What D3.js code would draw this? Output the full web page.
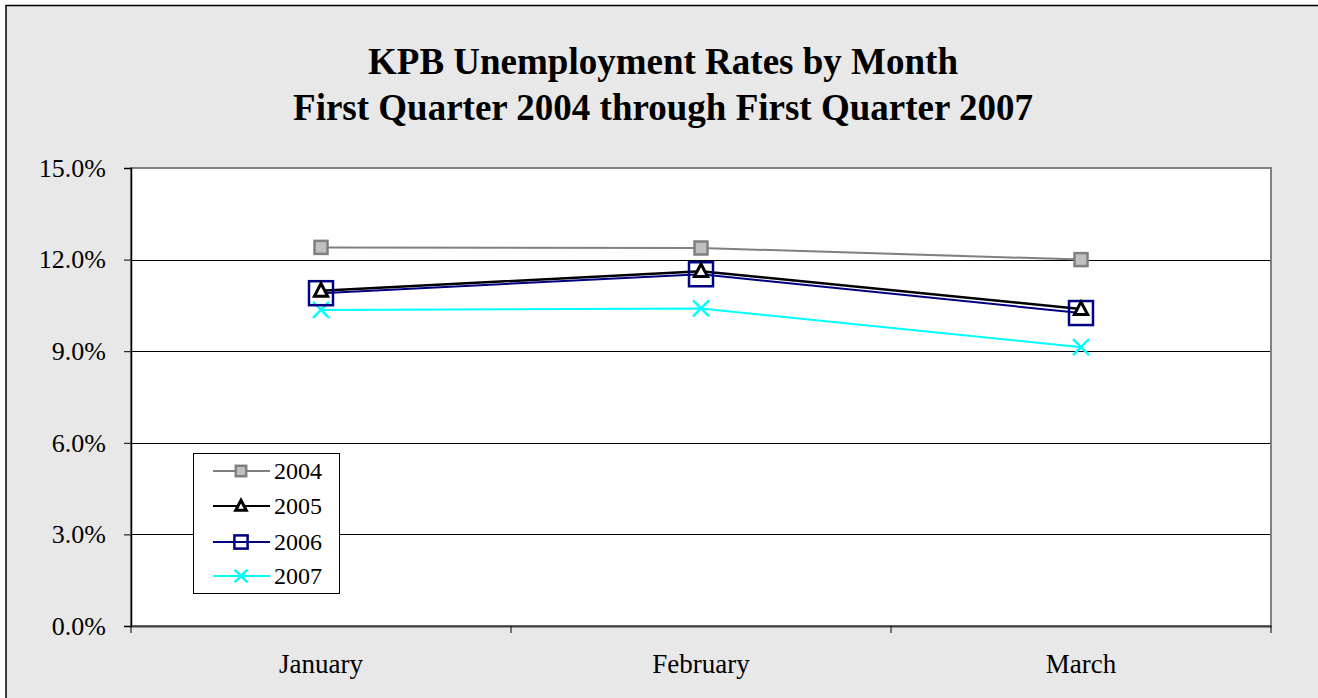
<!DOCTYPE html>
<html><head><meta charset="utf-8">
<script src="https://cdn.jsdelivr.net/npm/d3@7"></script>
<style>html,body{margin:0;padding:0;background:#fff;}svg{display:block;}</style>
</head><body>
<svg id="c" width="1318" height="698"></svg>
<script>
const months = ["January", "February", "March"];
const yTicks = [0, 3, 6, 9, 12, 15];
const titleLines = ["KPB Unemployment Rates by Month", "First Quarter 2004 through First Quarter 2007"];
const seriesNames = ["2004", "2005", "2006", "2007"];
const v2004 = [12.4, 12.38, 12.0];
const v2005 = [10.98, 11.62, 10.38];
const v2006 = [10.9, 11.52, 10.25];
const v2007 = [10.35, 10.4, 9.13];

const colors = {"2004": "#808080", "2005": "#000000", "2006": "#000080", "2007": "#00ffff"};
const markers = {"2004": "fsquare", "2005": "triangle", "2006": "square", "2007": "cross"};
const values = {"2004": v2004, "2005": v2005, "2006": v2006, "2007": v2007};

const svg = d3.select("#c");
const font = "'Liberation Serif','Times New Roman',serif";

svg.append("rect").attr("x", 0).attr("y", 0).attr("width", 1318).attr("height", 698).attr("fill", "#fff");
svg.append("rect").attr("x", 6).attr("y", 5.5).attr("width", 1330).attr("height", 710)
  .attr("fill", "#e8e8e8").attr("stroke", "#000").attr("stroke-width", 1.5);

const L = 131, R = 1271, T = 168, B = 626;
const x = d3.scaleBand().domain(months).range([L, R]);
const y = d3.scaleLinear().domain([0, 15]).range([B, T]);

svg.append("rect").attr("x", L).attr("y", T).attr("width", R - L).attr("height", B - T).attr("fill", "#fff");

// gridlines
svg.append("g").selectAll("line").data(yTicks.filter(d => d > 0 && d < 15)).join("line")
  .attr("x1", L).attr("x2", R).attr("y1", d => Math.round(y(d)) + 0.5).attr("y2", d => Math.round(y(d)) + 0.5)
  .attr("stroke", "#000").attr("stroke-width", 1);

// plot border
svg.append("rect").attr("x", L).attr("y", T).attr("width", R - L).attr("height", B - T)
  .attr("fill", "none").attr("stroke", "#808080").attr("stroke-width", 2);

// y axis
const ya = svg.append("g").attr("transform", `translate(${L},0)`)
  .call(d3.axisLeft(y).tickValues(yTicks).tickSize(7).tickPadding(18).tickFormat(d => d.toFixed(1) + "%"));
ya.select(".domain").attr("stroke", "#000").attr("stroke-width", 1.5);
ya.selectAll(".tick line").attr("stroke", "#000");
ya.selectAll("text").attr("font-family", font).attr("font-size", 26).attr("fill", "#000");

// x axis
const xa = svg.append("g").attr("transform", `translate(0,${B})`)
  .call(d3.axisBottom(x).tickSize(0).tickPadding(0));
xa.select(".domain").attr("stroke", "#404040").attr("stroke-width", 2);
xa.selectAll("text").attr("font-family", font).attr("font-size", 27).attr("fill", "#000")
  .attr("y", 47).attr("dy", 0);
const bounds = [L].concat(months.map(m => x(m) + x.bandwidth()));
svg.append("g").selectAll("line").data(bounds).join("line")
  .attr("x1", d => d).attr("x2", d => d).attr("y1", B).attr("y2", B + 7)
  .attr("stroke", "#000").attr("stroke-width", 1);

function drawMarker(g, type, cx, cy, color, scale) {
  if (type === "fsquare") {
    const s = 13 * scale;
    g.append("rect").attr("x", cx - s / 2).attr("y", cy - s / 2).attr("width", s).attr("height", s)
      .attr("fill", "#c0c0c0").attr("stroke", "#808080").attr("stroke-width", 2.5);
  } else if (type === "triangle") {
    const s = 12 * scale;
    g.append("path").attr("d", `M${cx},${cy - s * 0.6}L${cx + s * 0.55},${cy + s * 0.45}L${cx - s * 0.55},${cy + s * 0.45}Z`)
      .attr("fill", "#fff").attr("stroke", "#000").attr("stroke-width", 3);
  } else if (type === "square") {
    const s = 24 * scale;
    g.append("rect").attr("x", cx - s / 2).attr("y", cy - s / 2).attr("width", s).attr("height", s)
      .attr("fill", "none").attr("stroke", color).attr("stroke-width", 2.5);
  } else if (type === "cross") {
    const s = 8 * scale;
    g.append("path").attr("d", `M${cx - s},${cy - s}L${cx + s},${cy + s}M${cx - s},${cy + s}L${cx + s},${cy - s}`)
      .attr("stroke", color).attr("stroke-width", 2.5);
  }
}

const line = d3.line().x((d, i) => x(months[i]) + x.bandwidth() / 2).y(d => y(d));
const order = ["2004", "2007", "2006", "2005"];
order.forEach(s => {
  svg.append("path").datum(values[s]).attr("d", line).attr("fill", "none")
    .attr("stroke", colors[s]).attr("stroke-width", s === "2005" ? 2.5 : 2);
});
["2004", "2007", "2006", "2005"].forEach(s => {
  const g = svg.append("g");
  values[s].forEach((v, i) => {
    drawMarker(g, markers[s], x(months[i]) + x.bandwidth() / 2, y(v), colors[s], 1);
  });
});

// title
const tt = svg.append("text").attr("text-anchor", "middle").attr("font-family", font)
  .attr("font-weight", "bold").attr("font-size", 37).attr("fill", "#000");
titleLines.forEach((t, i) => tt.append("tspan").attr("x", 663).attr("y", 74 + i * 46).text(t));

// legend
const lg = svg.append("g");
lg.append("rect").attr("x", 193.5).attr("y", 453.5).attr("width", 146).attr("height", 140)
  .attr("fill", "#fff").attr("stroke", "#000").attr("stroke-width", 1);
const ly = [471, 506, 542, 576];
seriesNames.forEach((s, i) => {
  lg.append("line").attr("x1", 213).attr("x2", 270).attr("y1", ly[i]).attr("y2", ly[i])
    .attr("stroke", colors[s]).attr("stroke-width", 2);
  drawMarker(lg, markers[s], 241, ly[i], colors[s], s === "2006" ? 0.55 : 0.8);
  lg.append("text").attr("x", 274).attr("y", ly[i] + 8).attr("font-family", font).attr("font-size", 24)
    .attr("fill", "#000").text(s);
});
</script>
</body></html>
